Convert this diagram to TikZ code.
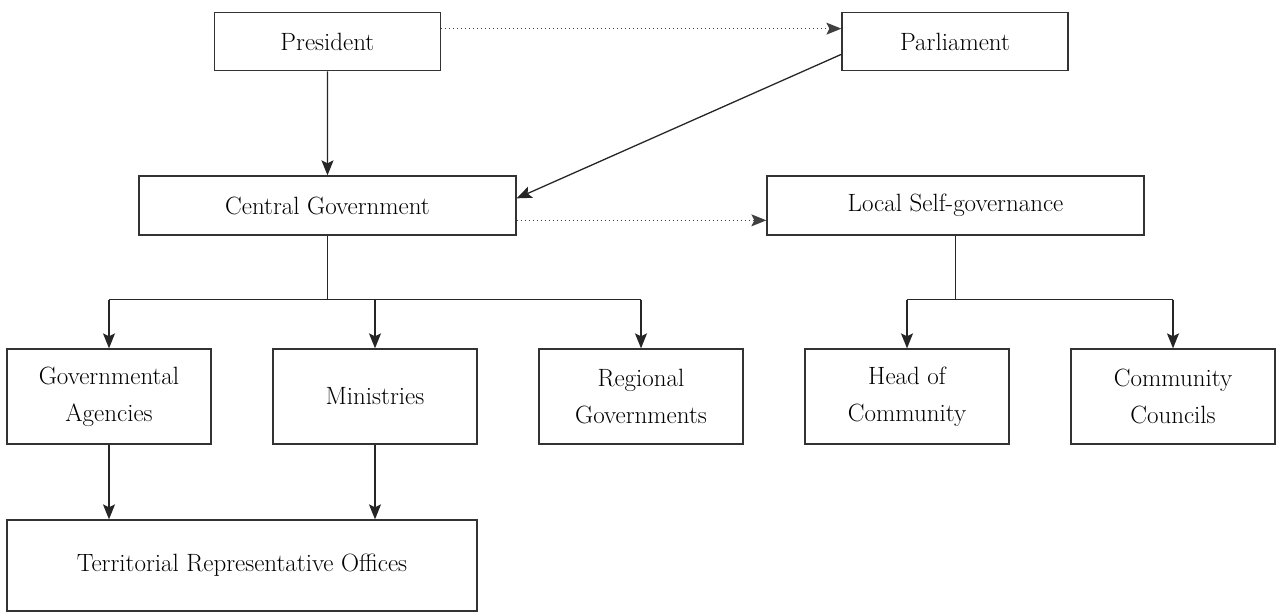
\documentclass[tikz,border=0pt]{standalone}
\usetikzlibrary{arrows.meta}
\begin{document}
\begin{tikzpicture}[x=1pt,y=-1pt,
  box/.style={draw=black!80,line width=1.3pt,rectangle,inner sep=0pt,align=center,
    font=\fontsize{25pt}{37pt}\selectfont,text=black},
  topbox/.style={box,minimum width=226pt,minimum height=58pt},
  midbox/.style={box,minimum width=377pt,minimum height=59pt},
  lowbox/.style={box,minimum width=204pt,minimum height=95pt},
  conn/.style={line width=1.3pt,draw=black!85},
  arr/.style={conn,-{Stealth[length=15pt,width=12pt,inset=3pt]}},
  dotarr/.style={line width=1.3pt,draw=black!75,dash pattern=on 1pt off 3pt,
    -{Stealth[length=15pt,width=12pt,inset=3pt]}}]
\useasboundingbox (0,0) rectangle (1276,612);

\node[topbox] (pres) at (327.4,41.7) {President};
\node[topbox] (parl) at (955,41.7) {Parliament};
\node[midbox] (cent) at (327.5,205.5) {Central Government};
\node[midbox] (local) at (955.5,205.5) {Local Self-governance};
\node[lowbox] (agen) at (109,396.5) {Governmental\\Agencies};
\node[lowbox] (mini) at (375,396.5) {Ministries};
\node[lowbox] (regi) at (641,396.5) {Regional\\Governments};
\node[lowbox] (head) at (907,396.5) {Head of\\Community};
\node[lowbox] (coun) at (1173,396.5) {Community\\Councils};
\node[box,minimum width=470pt,minimum height=91pt] (terr) at (242,565.5) {Territorial Representative Offices};

% top connections
\draw[dotarr] ([yshift=-16.6pt]pres.north east) -- ([yshift=-16.6pt]parl.north west);
\draw[arr] (pres.south) -- (cent.north);
\draw[arr] ([yshift=-42.3pt]parl.north west) -- ([yshift=-23pt]cent.north east);
\draw[dotarr] ([yshift=-45pt]cent.north east) -- ([yshift=-45pt]local.north west);

% central government bus
\draw[conn] (cent.south) -- ++(0,64) coordinate (busC);
\draw[conn] (agen.north |- busC) -- (regi.north |- busC);
\draw[arr] (agen.north |- busC) -- (agen.north);
\draw[arr] (mini.north |- busC) -- (mini.north);
\draw[arr] (regi.north |- busC) -- (regi.north);

% local self-governance bus
\draw[conn] (local.south) -- ++(0,64) coordinate (busL);
\draw[conn] (head.north |- busL) -- (coun.north |- busL);
\draw[arr] (head.north |- busL) -- (head.north);
\draw[arr] (coun.north |- busL) -- (coun.north);

% to territorial offices
\draw[arr] (agen.south) -- (agen.south |- terr.north);
\draw[arr] (mini.south) -- (mini.south |- terr.north);
\end{tikzpicture}
\end{document}
